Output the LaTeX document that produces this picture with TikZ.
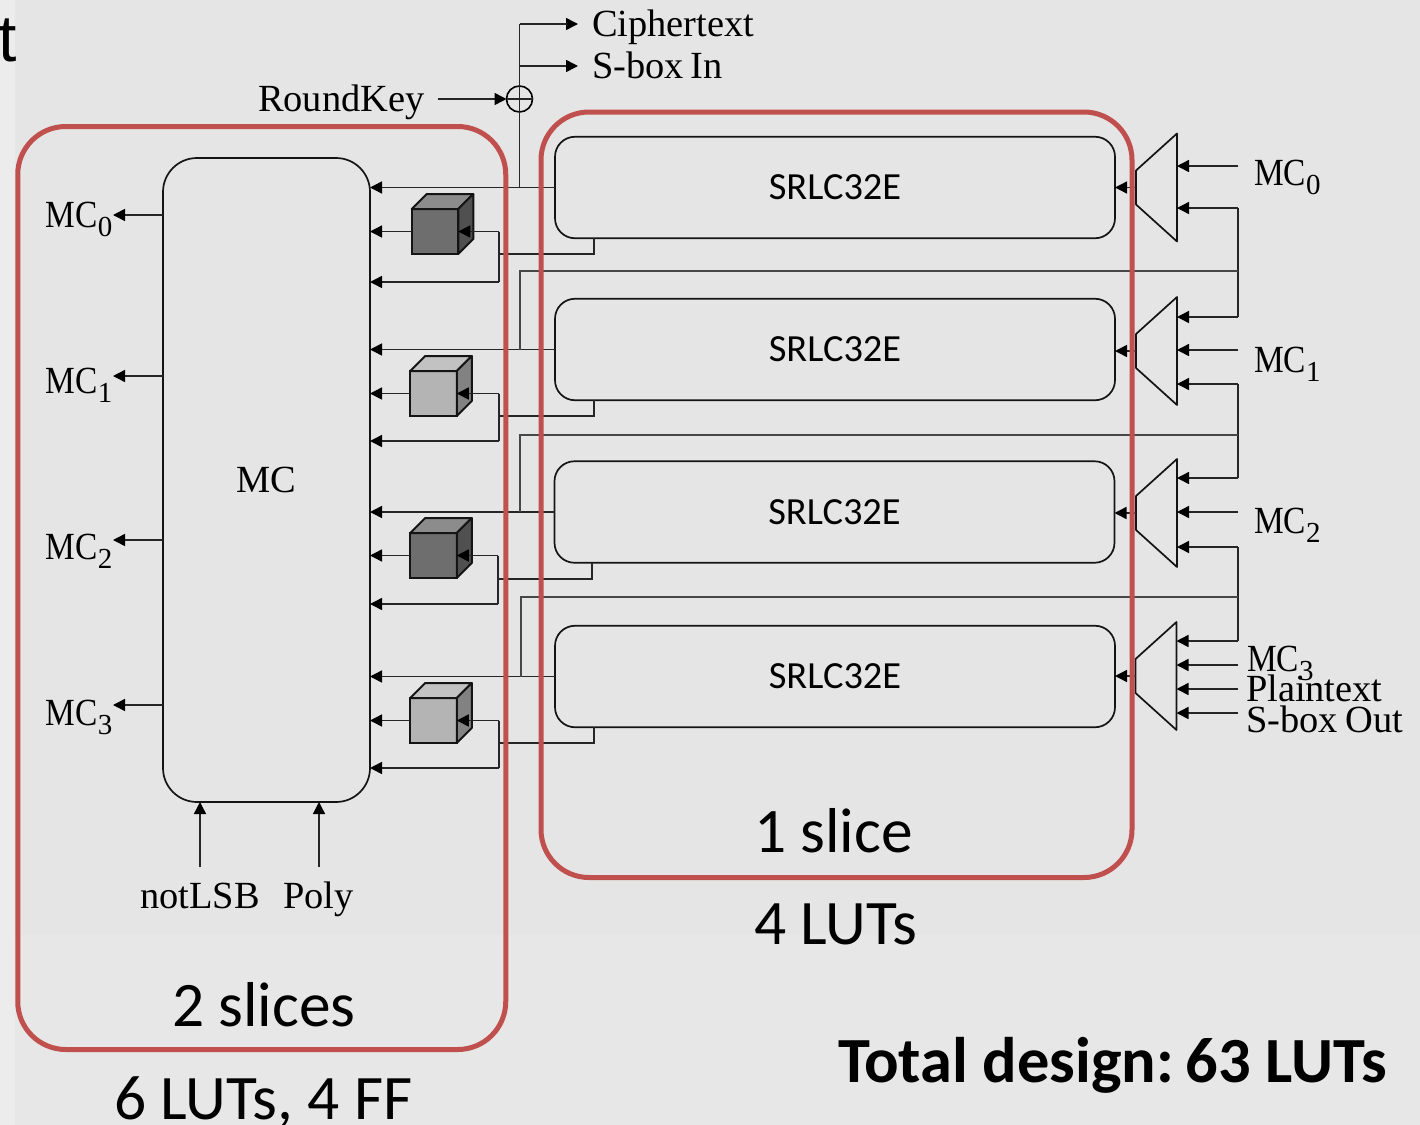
\documentclass[tikz,border=0pt]{standalone}
\usepackage{fontspec}
\setmainfont{Liberation Serif}
\newfontfamily\calfont{Carlito}
\newfontfamily\mcfont[FakeStretch=0.87]{Liberation Serif}
\newfontfamily\arialfont{Liberation Sans}
\usetikzlibrary{arrows.meta}
\newcommand{\fs}[1]{\fontsize{#1}{#1}\selectfont}
\newcommand{\mcsub}[1]{{\mcfont MC}\raisebox{-4.5pt}{\fs{14.5pt}#1}}
\definecolor{redbox}{HTML}{C0504D}
\tikzset{
  wire/.style={draw=black!85, line width=0.75pt},
  greywire/.style={draw=black!72, line width=0.7pt},
  arr/.style={wire, -{Triangle[length=6pt,width=6pt,color=black]}},
  boxline/.style={draw=black!92, line width=0.85pt, inner sep=0, outer sep=0},
  srl/.style={boxline, rounded corners=10pt, minimum width=280pt, minimum height=50.75pt, font=\calfont\fs{19.2pt}},
  redround/.style={draw=redbox, line width=2.5pt, rounded corners=24pt, inner sep=0, outer sep=0},
  muxbox/.style={inner sep=0, outer sep=0, minimum width=20.5pt, minimum height=54pt},
  front/.style={boxline, line width=1pt, minimum width=23.25pt, minimum height=22.5pt},
  lbl/.style={anchor=base west, inner sep=0, outer sep=0, font=\fs{19.2pt}},
  big/.style={anchor=base west, inner sep=0, outer sep=0, font=\calfont\fs{31.7pt}}
}
\begin{document}
\begin{tikzpicture}[x=0.5pt,y=-0.5pt]
\useasboundingbox (0,0) rectangle (1420,1125);
% backgrounds
\fill[fill=black!10] (0,0) rectangle (1420,1125);
\fill[fill=black!9.4] (0,935) rectangle (1420,1125);
\fill[fill=black!7.5] (0,0) rectangle (15,1125);
\begin{scope}
\clip (0,0) rectangle (15,1125);
\node[anchor=base west, inner sep=0, font=\arialfont\fs{33pt}] (tfrag) at (-2,61) {t};
\end{scope}

% MC block
\node[boxline, rounded corners=17pt, minimum width=103.5pt, minimum height=322pt, font=\fs{19.2pt}] (mc) at (266.5,480) {MC};

% SRL blocks
\node[srl] (s0) at (835,187.5) {\raisebox{-0.5pt}{SRLC32E}};
\node[srl] (s1) at (835,349.5) {\raisebox{-0.5pt}{SRLC32E}};
\node[srl] (s2) at (834.5,512) {SRLC32E};
\node[srl] (s3) at (835,676.5) {\raisebox{-0.5pt}{SRLC32E}};

% multiplexers
\node[muxbox] (m0) at (1156.5,187.5) {};
\node[muxbox] (m1) at (1156.5,351) {};
\node[muxbox] (m2) at (1156.5,513) {};
\node[muxbox] (m3) at (1156,676) {};
\foreach \m in {m0,m1,m2,m3}
  \draw[boxline, line join=round] (\m.north east) -- ([yshift=8.5pt]\m.west) -- ([yshift=-8.5pt]\m.west) -- (\m.south east) -- cycle;

% registers
\foreach \c/\x/\y/\ff/\ft/\fs in {c0/435/231.5/6e6e6e/8c8c8c/505050,
                                  c1/433.5/393.5/b4b4b4/c2c2c2/828282,
                                  c2/433.5/555.5/6e6e6e/8c8c8c/505050,
                                  c3/433.5/720.5/b4b4b4/c2c2c2/828282}{
  \definecolor{ff}{HTML}{\ff}\definecolor{ft}{HTML}{\ft}\definecolor{fz}{HTML}{\fs}
  \node[front, fill=ff] (\c) at (\x,\y) {};
  \draw[boxline, line width=1pt, fill=ft, line join=round] (\c.north west) -- ++(15,-15) -- ++(46.5,0) -- (\c.north east) -- cycle;
  \draw[boxline, line width=1pt, fill=fz, line join=round] (\c.north east) -- ++(15,-15) -- ++(0,45) -- (\c.south east) -- cycle;
}

% SRL outputs to MC
\foreach \s in {s0,s1,s2,s3}
  \draw[arr] (\s.west) -- (\s.west -| mc.east);

% register in/out and feedback
\foreach \c/\s/\vx/\ys/\ye/\ex in {c0/s0/499/254/282/594,
                                   c1/s1/499/416/441/594,
                                   c2/s2/498/579/604/592,
                                   c3/s3/499/743/768/594}{
  \draw[arr] (\c.west) -- (\c.west -| mc.east);
  \coordinate (v\c) at (\vx,0);
  \coordinate (e\c) at (\ex,\ys);
  \draw[arr] (\c.west -| v\c) -- (\c.east);
  \draw[wire] (\c.west -| v\c) -- (v\c |- 0,\ye);
  \draw[arr] (v\c |- 0,\ye) -- (mc.east |- 0,\ye);
  \draw[wire] (v\c |- e\c) -- (e\c) -- (e\c |- \s.south);
}

% mux outputs
\foreach \m/\s in {m0/s0,m1/s1,m2/s2,m3/s3}
  \draw[arr] (\m.west) -- (\m.west -| \s.east);

% xor and outputs
\node[draw=black, line width=0.8pt, circle, minimum size=13pt, inner sep=0, outer sep=0] (xr) at (519.5,99) {};
\draw[wire] (xr.west) -- (xr.east);
\coordinate (tapb) at (519.5,187.5);
\draw[wire, line width=0.9pt] (tapb |- s0.west) -- (xr.south);
\draw[wire, line width=0.9pt] (xr.south) -- (xr.north);
\coordinate (cttop) at (519.5,24);
\node[lbl] (ct) at (592,36) {Ciphertext};
\node[lbl] (sbi) at (592,78) {S-box\hspace{-1.5pt} In};
\coordinate (sbiw) at (519.5,66);
\coordinate (ctt) at (578,24);
\coordinate (sbt) at (578,66);
\draw[wire] (xr.north) -- (cttop);
\draw[arr] (cttop) -- (ctt);
\draw[arr] (sbiw) -- (sbt);
\node[lbl] (rk) at (258,111) {RoundKey};
\coordinate (rkw) at (438,99);
\draw[arr] (rkw) -- (xr.west);

% feedback bus
\foreach \a/\b/\h/\vx/\s/\bx in {208/317/271/520/s1/1238,
                             384/478/435/520/s2/1238,
                             547/641/597/521/s3/1238}{
  \coordinate (bt) at (\bx,\a);
  \coordinate (bb) at (\bx,\b);
  \coordinate (hl) at (\vx,\h);
  \draw[wire] (bt) -- (bb);
  \draw[greywire] (bt |- hl) -- (hl) -- (hl |- \s.west);
}
\foreach \m/\y in {m0/166,m0/208,m1/317,m1/350,m1/384,m2/478,m2/512,m2/547,m3/641,m3/665,m3/689,m3/713}
  \draw[arr] (1238,\y) -- (\m.east |- 1238,\y);

% right labels
\node[lbl] (lr0) at (1254,185) {\mcsub{0}};
\node[lbl] (lr1) at (1254,372) {\mcsub{1}};
\node[lbl] (lr2) at (1254,533) {\mcsub{2}};
\node[lbl] (lr3) at (1247,671) {\mcsub{3}};
\node[lbl] (lrp) at (1246,701) {Plaintext};
\node[lbl] (lrs) at (1246,732) {S-box\hspace{-1pt} Out};

% left labels
\node[lbl] (ll0) at (46,227) {\mcsub{0}};
\node[lbl] (ll1) at (46,393) {\mcsub{1}};
\node[lbl] (ll2) at (46,559) {\mcsub{2}};
\node[lbl] (ll3) at (46,725) {\mcsub{3}};
\foreach \y in {215,376,540,705}
  \draw[arr] (mc.west |- 0,\y) -- (113,\y);

% bottom inputs
\node[lbl, anchor=base] (nl) at (200,908) {notLSB};
\node[lbl, anchor=base] (po) at (318.5,908) {Poly};
\draw[arr] (200,867) -- (200,802);
\draw[arr] (319,867) -- (319,802);

% groups
\node[redround, minimum width=244pt, minimum height=461.5pt] (r1) at (261.75,588) {};
\node[redround, minimum width=295.5pt, minimum height=382.75pt] (r2) at (836.5,494.75) {};

% captions
\node[big] (t1) at (754,852) {1 slice};
\node[big] (t2) at (754,944) {4 LUTs};
\node[big] (t3) at (172,1026) {2 slices};
\node[big] (t4) at (114,1119) {6 LUTs, 4 FF};
\node[big, font=\calfont\bfseries\fs{32.2pt}] (t5) at (838,1082) {Total design:\kern-1.5pt\ 63 LUTs};
\end{tikzpicture}
\end{document}
